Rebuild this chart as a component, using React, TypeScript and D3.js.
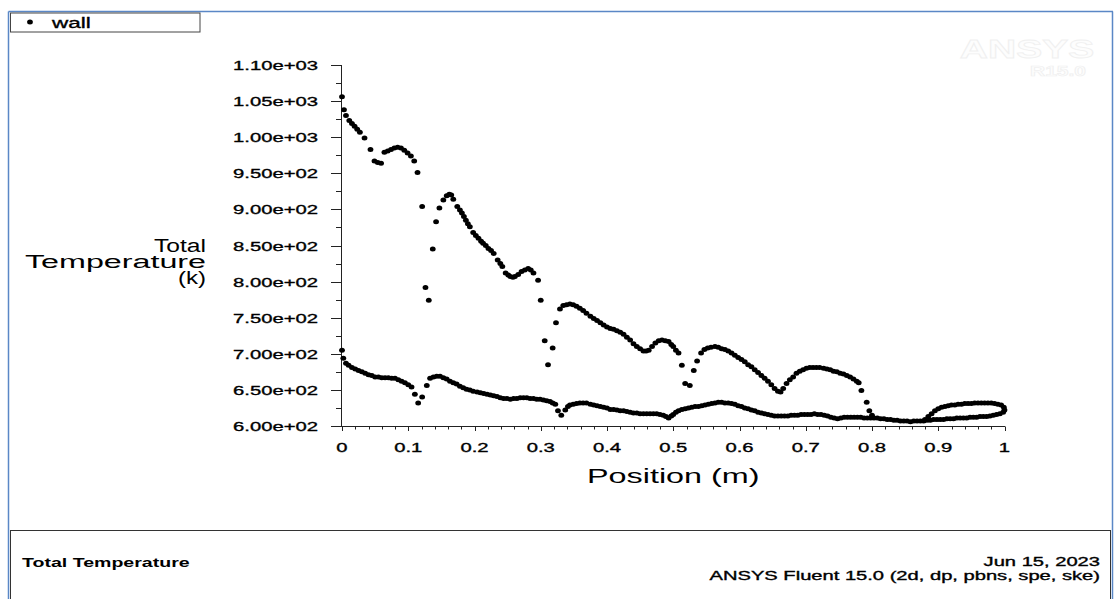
import React from "react";
import * as d3 from "d3";

// ---------- data ----------
const upperX = [
  0.000, 0.003, 0.006, 0.011, 0.015, 0.019, 0.023, 0.027, 0.034, 0.043, 0.049, 0.054, 0.059,
  0.064, 0.069, 0.074, 0.079, 0.084, 0.089, 0.094, 0.099, 0.104, 0.109, 0.114, 0.121, 0.126,
  0.131, 0.137, 0.142, 0.147, 0.153, 0.158, 0.162, 0.165, 0.168, 0.174, 0.178, 0.181, 0.184,
  0.187, 0.190, 0.193, 0.198, 0.202, 0.206, 0.210, 0.213, 0.217, 0.221, 0.225, 0.229, 0.235,
  0.239, 0.242, 0.247, 0.251, 0.254, 0.258, 0.261, 0.266, 0.271, 0.276, 0.281, 0.285, 0.289,
  0.296, 0.300, 0.306, 0.311, 0.318, 0.323, 0.329, 0.334, 0.339, 0.344, 0.349, 0.354, 0.359,
  0.364, 0.369, 0.375, 0.380, 0.385, 0.390, 0.395, 0.400, 0.405, 0.410, 0.415, 0.420, 0.425,
  0.430, 0.435, 0.440, 0.445, 0.450, 0.455, 0.459, 0.463, 0.468, 0.473, 0.478, 0.483, 0.488,
  0.493, 0.497, 0.500, 0.504, 0.508, 0.513, 0.518, 0.525, 0.531, 0.536, 0.542, 0.547, 0.552,
  0.557, 0.563, 0.568, 0.573, 0.578, 0.583, 0.588, 0.593, 0.598, 0.603, 0.608, 0.613, 0.618,
  0.623, 0.628, 0.633, 0.638, 0.643, 0.648, 0.653, 0.658, 0.662, 0.666, 0.671, 0.676, 0.681,
  0.686, 0.691, 0.696, 0.701, 0.706, 0.711, 0.716, 0.721, 0.727, 0.732, 0.737, 0.742, 0.747,
  0.752, 0.757, 0.762, 0.767, 0.772, 0.777, 0.780, 0.784, 0.792, 0.796, 0.800,
];
const upperT = [
  1056, 1038, 1030, 1023, 1019, 1015, 1011, 1007, 999, 983, 967, 965, 964,
  979, 981, 983, 985, 986, 985, 982, 978, 974, 967, 951, 904, 792,
  774, 845, 883, 902, 913, 919, 921, 920, 914, 904, 899, 895, 890,
  885, 880, 876, 868, 864, 860, 856, 853, 850, 846, 843, 839, 830,
  825, 821, 812, 809, 807, 806, 807, 810, 814, 816, 818, 816, 812,
  802, 774, 718, 685, 708, 743, 762, 767, 768, 769, 768, 766, 763,
  760, 756, 752, 749, 746, 743, 740, 737, 735, 734, 732, 730, 727,
  723, 719, 714, 710, 707, 704, 704, 705, 710, 715, 718, 719, 718,
  717, 713, 710, 705, 701, 684, 659, 656, 677, 690, 701, 706, 708,
  709, 710, 709, 707, 706, 704, 701, 698, 695, 692, 689, 685, 682,
  678, 674, 670, 666, 662, 657, 652, 648, 647, 652, 659, 664, 668,
  673, 676, 678, 680, 681, 681, 681, 681, 680, 679, 678, 676, 675,
  673, 672, 670, 668, 665, 662, 660, 649, 633, 621, 615,
];

const lowerX = [
  0.000, 0.002, 0.006, 0.010, 0.015, 0.020, 0.025, 0.030, 0.035, 0.040, 0.045, 0.050, 0.055,
  0.060, 0.065, 0.070, 0.075, 0.080, 0.085, 0.090, 0.095, 0.100, 0.105, 0.110, 0.115, 0.121,
  0.128, 0.133, 0.138, 0.143, 0.148, 0.153, 0.158, 0.163, 0.168, 0.173, 0.178, 0.183, 0.188,
  0.193, 0.198, 0.204, 0.209, 0.214, 0.219, 0.224, 0.229, 0.234, 0.239, 0.244, 0.249, 0.254,
  0.259, 0.264, 0.269, 0.274, 0.279, 0.284, 0.289, 0.294, 0.299, 0.304, 0.309, 0.314, 0.318,
  0.322, 0.326, 0.331, 0.337, 0.341, 0.344, 0.349, 0.354, 0.359, 0.364, 0.369, 0.375, 0.380,
  0.385, 0.390, 0.395, 0.400, 0.405, 0.410, 0.415, 0.420, 0.425, 0.430, 0.435, 0.440, 0.445,
  0.450, 0.455, 0.460, 0.465, 0.470, 0.475, 0.480, 0.485, 0.489, 0.493, 0.497, 0.500, 0.504,
  0.508, 0.513, 0.518, 0.523, 0.528, 0.533, 0.538, 0.543, 0.548, 0.553, 0.558, 0.563, 0.568,
  0.573, 0.578, 0.583, 0.588, 0.593, 0.598, 0.603, 0.608, 0.613, 0.618, 0.623, 0.628, 0.633,
  0.638, 0.643, 0.648, 0.653, 0.658, 0.663, 0.668, 0.673, 0.678, 0.683, 0.688, 0.693, 0.698,
  0.703, 0.708, 0.713, 0.718, 0.723, 0.728, 0.733, 0.738, 0.743, 0.748, 0.753, 0.758, 0.763,
  0.768, 0.773, 0.778, 0.783, 0.788, 0.793, 0.798, 0.803, 0.808, 0.813, 0.818, 0.823, 0.828,
  0.833, 0.838, 0.843, 0.848, 0.853, 0.858, 0.863, 0.868, 0.873, 0.878, 0.883, 0.888, 0.893,
  0.898, 0.903, 0.908, 0.913, 0.918, 0.923, 0.928, 0.933, 0.938, 0.943, 0.948, 0.953, 0.958,
  0.963, 0.968, 0.973, 0.978, 0.983, 0.988, 0.993, 0.998, 1.000,
];
const lowerT = [
  705, 694, 687, 684, 681, 679, 677, 675, 673, 671, 670, 668, 668,
  667, 667, 667, 666, 666, 664, 662, 660, 657, 654, 644, 632, 640,
  656, 666, 668, 669, 669, 667, 665, 662, 660, 658, 655, 653, 651,
  650, 648, 647, 646, 645, 644, 643, 642, 641, 639, 638, 638, 637,
  638, 638, 639, 639, 639, 638, 638, 637, 637, 636, 635, 634, 632,
  630, 621, 615, 622, 627, 629, 630, 631, 632, 632, 632, 630, 629,
  628, 627, 626, 625, 623, 623, 622, 621, 621, 620, 619, 618, 618,
  617, 617, 617, 617, 617, 617, 616, 615, 613, 611, 614, 616, 619,
  621, 623, 624, 625, 626, 627, 627, 628, 629, 630, 631, 632, 633,
  633, 632, 632, 631, 630, 628, 627, 625, 624, 622, 621, 619, 618,
  617, 616, 615, 614, 614, 614, 614, 614, 615, 615, 615, 616, 616,
  616, 616, 617, 616, 616, 615, 614, 612, 611, 610, 611, 612, 612,
  612, 612, 612, 612, 611, 611, 611, 611, 611, 610, 610, 609, 609,
  608, 608, 607, 607, 607, 606, 607, 607, 607, 607, 608, 608, 609,
  609, 609, 609, 610, 610, 610, 611, 611, 611, 611, 612, 612, 612,
  613, 613, 613, 614, 615, 616, 617, 619, 622,
];

// upper part of the closed loop near the outlet
const loopX = [
  0.880, 0.885, 0.890, 0.895, 0.900, 0.905, 0.910, 0.915, 0.920, 0.925, 0.930, 0.935, 0.940,
  0.945, 0.950, 0.955, 0.960, 0.965, 0.970, 0.975, 0.980, 0.985, 0.990, 0.995, 0.999,
];
const loopT = [
  609, 613, 617, 621, 624, 626, 627, 628, 629, 629, 630, 630, 631,
  631, 631, 632, 632, 632, 632, 632, 632, 631, 630, 629, 626,
];

const yTickValues = [600, 650, 700, 750, 800, 850, 900, 950, 1000, 1050, 1100];
const yTickLabels = [
  "6.00e+02", "6.50e+02", "7.00e+02", "7.50e+02", "8.00e+02", "8.50e+02",
  "9.00e+02", "9.50e+02", "1.00e+03", "1.05e+03", "1.10e+03",
];
const xTickValues = [0, 0.1, 0.2, 0.3, 0.4, 0.5, 0.6, 0.7, 0.8, 0.9, 1];
const xTickLabels = ["0", "0.1", "0.2", "0.3", "0.4", "0.5", "0.6", "0.7", "0.8", "0.9", "1"];
const yTitleLines = ["Total", "Temperature", "(k)"];
const yTitleWidths = [52, 181, 28];
const legendLabel = "wall";
const xTitle = "Position (m)";
const footerLeft = "Total Temperature";
const footerRight = ["Jun 15, 2023", "ANSYS Fluent 15.0 (2d, dp, pbns, spe, ske)"];

const FONT = "'Liberation Sans', Arial, Helvetica, sans-serif";

export default function App() {
  const W = 1116;
  const H = 599;
  const x = d3.scaleLinear().domain([0, 1]).range([342, 1004.5]);
  const y = d3.scaleLinear().domain([600, 1100]).range([426, 65]);

  const yMinor = d3.range(625, 1100, 50);
  const xMinor = d3.range(0, 1.0001, 0.02).filter((v) => Math.abs(v * 10 - Math.round(v * 10)) > 1e-6);

  const pts: [number, number][] = [];
  upperX.forEach((v, i) => pts.push([v, upperT[i]]));
  lowerX.forEach((v, i) => pts.push([v, lowerT[i]]));
  loopX.forEach((v, i) => pts.push([v, loopT[i]]));

  const axisColor = "#222";
  const sx = 1.5;
  const heavy = { stroke: "#000", strokeWidth: 0.35 };

  return (
    <div style={{ position: "absolute", left: 0, top: 0, width: W, height: H, background: "#fff" }}>
      <svg width={W} height={H} style={{ display: "block", fontFamily: FONT }}>
        <rect x={0} y={0} width={W} height={H} fill="#fff" />
        {/* outer frame */}
        <line x1={8.5} y1={11.5} x2={1113} y2={11.5} stroke="#5a87c6" strokeWidth={1.5} />
        <line x1={8.5} y1={11.5} x2={8.5} y2={H} stroke="#5a87c6" strokeWidth={1.5} />
        <line x1={1112.5} y1={11.5} x2={1112.5} y2={H} stroke="#5a87c6" strokeWidth={1.5} />

        {/* watermark */}
        <g transform="translate(1027,58) scale(1.5,1)">
          <text textAnchor="middle" fontSize={26} fontWeight="bold" fill="#fdfdfd" stroke="#f0f0f0" strokeWidth={0.8}>
            ANSYS
          </text>
        </g>
        <g transform="translate(1086,76) scale(1.5,1)">
          <text textAnchor="end" fontSize={14} fontWeight="bold" fill="#fdfdfd" stroke="#f0f0f0" strokeWidth={0.7}>
            R15.0
          </text>
        </g>

        {/* legend */}
        <rect x={10.5} y={13} width={189.5} height={19} fill="#fff" stroke="#444" strokeWidth={1} />
        <ellipse cx={30} cy={22} rx={2.9} ry={2.5} fill="#000" />
        <g transform="translate(52,28) scale(1.5,1)">
          <text fontSize={15} fill="#000" {...heavy}>{legendLabel}</text>
        </g>

        {/* y axis */}
        <line x1={341.5} y1={y(1100)} x2={341.5} y2={y(600)} stroke={axisColor} strokeWidth={1} />
        {yTickValues.map((v) => (
          <line key={"ym" + v} x1={331} x2={341.5} y1={Math.round(y(v)) + 0.5} y2={Math.round(y(v)) + 0.5} stroke={axisColor} />
        ))}
        {yMinor.map((v) => (
          <line key={"yn" + v} x1={336} x2={341.5} y1={Math.round(y(v)) + 0.5} y2={Math.round(y(v)) + 0.5} stroke={axisColor} />
        ))}
        {yTickValues.map((v, i) => (
          <g key={"yl" + v} transform={`translate(318,${y(v) + 5}) scale(${sx},1)`}>
            <text textAnchor="end" fontSize={13.5} fill="#000" {...heavy}>{yTickLabels[i]}</text>
          </g>
        ))}

        {/* x axis */}
        <line x1={331} y1={426.5} x2={x(1) + 0.5} y2={426.5} stroke={axisColor} strokeWidth={1} />
        {xTickValues.map((v) => (
          <line key={"xm" + v} x1={Math.round(x(v)) + 0.5} x2={Math.round(x(v)) + 0.5} y1={426.5} y2={431} stroke={axisColor} />
        ))}
        {xMinor.map((v) => (
          <line key={"xn" + v} x1={Math.round(x(v)) + 0.5} x2={Math.round(x(v)) + 0.5} y1={426.5} y2={429.5} stroke={axisColor} />
        ))}
        {xTickValues.map((v, i) => (
          <g key={"xl" + v} transform={`translate(${x(v)},452) scale(${sx},1)`}>
            <text textAnchor="middle" fontSize={13.5} fill="#000" {...heavy}>{xTickLabels[i]}</text>
          </g>
        ))}

        {/* axis titles */}
        <g transform={`translate(${(x(0) + x(1)) / 2},483) scale(1.54,1)`}>
          <text textAnchor="middle" fontSize={21} fill="#000">{xTitle}</text>
        </g>
        {yTitleLines.map((t, i) => (
          <text
            key={t}
            x={206 - yTitleWidths[i]}
            y={252 + i * 16}
            fontSize={18}
            fill="#000"
            textLength={yTitleWidths[i]}
            lengthAdjust="spacingAndGlyphs"
          >
            {t}
          </text>
        ))}

        {/* data points */}
        <g fill="#000">
          {pts.map((p, i) => (
            <ellipse key={i} cx={x(p[0])} cy={y(p[1])} rx={2.9} ry={2.5} />
          ))}
        </g>

        {/* footer box */}
        <rect x={10.5} y={530.5} width={1100} height={80} fill="#fff" stroke="#333" strokeWidth={1} />
        <g transform="translate(22,567) scale(1.63,1)">
          <text fontSize={12} fontWeight="bold" fill="#000">{footerLeft}</text>
        </g>
        <g transform="translate(1100,566) scale(1.55,1)">
          <text textAnchor="end" fontSize={13} fill="#000" {...heavy}>{footerRight[0]}</text>
        </g>
        <g transform="translate(1100,580) scale(1.55,1)">
          <text textAnchor="end" fontSize={13} fill="#000" {...heavy}>{footerRight[1]}</text>
        </g>
      </svg>
    </div>
  );
}
